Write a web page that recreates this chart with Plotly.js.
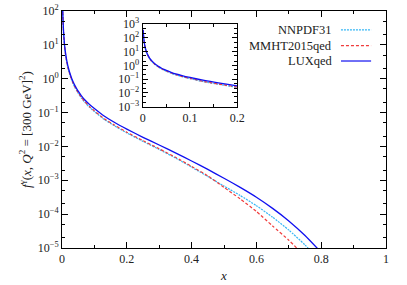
<!DOCTYPE html>
<html>
<head>
<meta charset="utf-8">
<script src="https://cdn.plot.ly/plotly-3.0.1.min.js"></script>
<style>html,body{margin:0;padding:0;background:#fff;}#chart{width:407px;height:285px;}</style>
</head>
<body>
<div id="chart"></div>
<script>
// x grid shared by the three photon PDF sets
const xVals = [0.001, 0.002, 0.003, 0.005, 0.0075, 0.01, 0.015, 0.02, 0.025, 0.03, 0.035, 0.04, 0.045, 0.05, 0.06, 0.07, 0.085, 0.1, 0.13, 0.16, 0.2, 0.25, 0.3, 0.35, 0.4, 0.45, 0.5, 0.55, 0.6, 0.65, 0.7, 0.75, 0.8];
// f^gamma(x, Q^2 = [300 GeV]^2)
const luxqed = [398, 132, 60.3, 22.9, 11.0, 6.61, 3.31, 2.04, 1.40, 1.02, 0.785, 0.624, 0.513, 0.427, 0.313, 0.240, 0.174, 0.132, 0.0794, 0.0525, 0.0324, 0.0186, 0.0110, 6.46e-3, 3.72e-3, 2.09e-3, 1.15e-3, 6.17e-4, 3.16e-4, 1.48e-4, 6.31e-5, 2.34e-5, 7.41e-6];
const nnpdf31 = [347, 115, 52.5, 20.0, 9.55, 5.75, 2.88, 1.78, 1.22, 0.891, 0.684, 0.543, 0.447, 0.372, 0.266, 0.204, 0.143, 0.107, 0.0631, 0.0417, 0.0251, 0.0141, 8.13e-3, 4.57e-3, 2.45e-3, 1.29e-3, 6.76e-4, 3.55e-4, 1.78e-4, 8.13e-5, 3.39e-5, 1.23e-5, 3.72e-6];
const mmht2015qed = [363, 120, 55.0, 20.9, 10.0, 6.03, 3.02, 1.86, 1.27, 0.933, 0.716, 0.569, 0.468, 0.389, 0.279, 0.214, 0.150, 0.112, 0.0661, 0.0437, 0.0263, 0.0148, 8.51e-3, 4.79e-3, 2.57e-3, 1.35e-3, 6.17e-4, 2.82e-4, 1.20e-4, 4.47e-5, 1.70e-5, 5.62e-6, 1.58e-6];

const seriesNames = ['NNPDF31', 'MMHT2015qed', 'LUXqed'];

const mainYTickVals = [1e-5, 1e-4, 1e-3, 1e-2, 1e-1, 1, 10, 100];
const mainYTickText = ['10<sup>−5</sup>', '10<sup>−4</sup>', '10<sup>−3</sup>', '10<sup>−2</sup>', '10<sup>−1</sup>', '10<sup>0</sup>', '10<sup>1</sup>', '10<sup>2</sup>'];
const insetYTickVals = [1e-3, 1e-2, 1e-1, 1, 10, 100, 1000];
const insetYTickText = ['10<sup>−3</sup>', '10<sup>−2</sup>', '10<sup>−1</sup>', '10<sup>0</sup>', '10<sup>1</sup>', '10<sup>2</sup>', '10<sup>3</sup>'];

const cCyan = '#35b6f5', cRed = '#f03c3c', cBlue = '#1010f0';
const FONT = 'Liberation Serif, DejaVu Serif, serif';

function mk(y, color, dash, width, xa, ya, name) {
  return {x: xVals, y: y, type: 'scatter', mode: 'lines', name: name,
    line: {color: color, dash: dash, width: width, shape: 'spline', smoothing: 0.5},
    xaxis: xa, yaxis: ya, showlegend: false, hoverinfo: 'skip'};
}

const traces = [
  mk(nnpdf31, cCyan, '2px,1px', 1.2, 'x', 'y', seriesNames[0]),
  mk(mmht2015qed, cRed, '3px,2px', 1.2, 'x', 'y', seriesNames[1]),
  mk(luxqed, cBlue, 'solid', 1.3, 'x', 'y', seriesNames[2]),
  mk(nnpdf31, cCyan, '2px,1px', 1.2, 'x2', 'y2', seriesNames[0]),
  mk(mmht2015qed, cRed, '3px,2px', 1.2, 'x2', 'y2', seriesNames[1]),
  mk(luxqed, cBlue, 'solid', 1.3, 'x2', 'y2', seriesNames[2])
];

const axBase = {showgrid: false, zeroline: false, showline: true, linecolor: '#000', linewidth: 1,
  ticks: 'inside', tickcolor: '#000', mirror: 'ticks', tickfont: {family: FONT, size: 12, color: '#222'}};

const legendY = [0.92, 0.854, 0.789];
const legendColors = [cCyan, cRed, cBlue];
const legendDash = ['2px,1px', '3px,2px', 'solid'];

const layout = {
  width: 407, height: 285,
  margin: {l: 62, r: 21, t: 11, b: 37},
  paper_bgcolor: '#fff', plot_bgcolor: '#fff',
  font: {family: FONT, color: '#222'},
  showlegend: false,
  xaxis: Object.assign({}, axBase, {domain: [0, 1], range: [0, 1], dtick: 0.2, ticklen: 6,
    minor: {dtick: 0.1, ticks: 'inside', ticklen: 3, tickcolor: '#000'},
    title: {text: '<i>x</i>', font: {family: FONT, size: 13, color: '#222'}, standoff: 5}}),
  yaxis: Object.assign({}, axBase, {type: 'log', range: [-5, 2], tickvals: mainYTickVals, ticktext: mainYTickText, ticklen: 6,
    minor: {ticks: 'inside', ticklen: 3, tickcolor: '#000'},
    title: {text: '<i>f</i><sup>γ</sup>(<i>x</i>, <i>Q</i><sup>2</sup> = [300 GeV]<sup>2</sup>)', font: {family: FONT, size: 13, color: '#222'}, standoff: 3}}),
  xaxis2: Object.assign({}, axBase, {domain: [0.249, 0.541], range: [0, 0.2], dtick: 0.1, ticklen: 5, anchor: 'y2',
    minor: {dtick: 0.05, ticks: 'inside', ticklen: 3, tickcolor: '#000'}}),
  yaxis2: Object.assign({}, axBase, {type: 'log', domain: [0.597, 0.944], range: [-3, 3], anchor: 'x2',
    tickvals: insetYTickVals, ticktext: insetYTickText, ticklen: 5,
    minor: {ticks: 'inside', ticklen: 3, tickcolor: '#000'}}),
  annotations: seriesNames.map((n, i) => ({text: n, xref: 'paper', yref: 'paper', x: 0.8395, y: legendY[i],
    xanchor: 'right', yanchor: 'middle', showarrow: false, font: {family: FONT, size: 12.5, color: '#222'}})),
  shapes: seriesNames.map((n, i) => ({type: 'line', xref: 'paper', yref: 'paper', x0: 0.861, x1: 0.954,
    y0: legendY[i], y1: legendY[i], line: {color: legendColors[i], width: 1.2, dash: legendDash[i]}}))
};

Plotly.newPlot('chart', traces, layout, {staticPlot: true, displayModeBar: false});
</script>
</body>
</html>
